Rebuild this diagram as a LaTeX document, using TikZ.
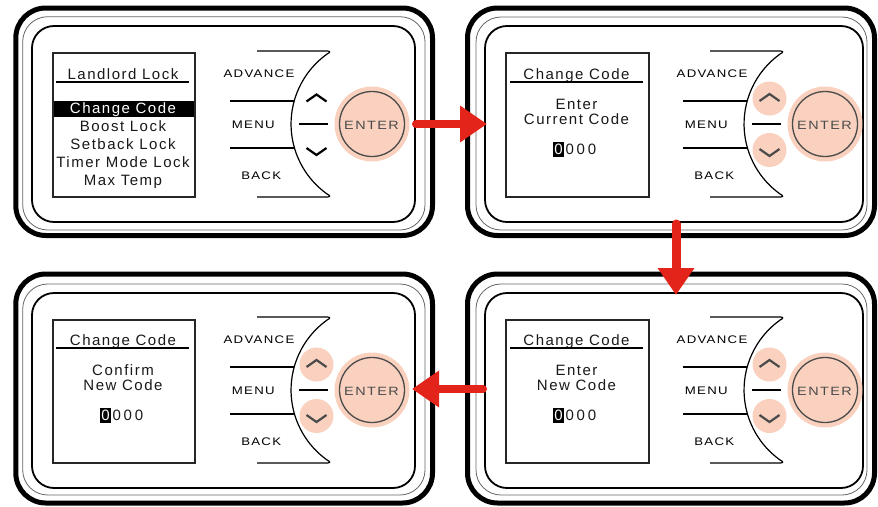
\documentclass[tikz,border=0pt]{standalone}
\usepackage{fontspec}
\setmainfont{Liberation Sans}
\newfontfamily\scrfont{Liberation Sans}[LetterSpace=10]
\newfontfamily\btnfont{Liberation Sans}[FakeStretch=1.2,LetterSpace=12]
\usetikzlibrary{arrows.meta}
\definecolor{pinkbtn}{RGB}{249,209,190}
\definecolor{arrowred}{RGB}{226,36,26}
\definecolor{btngray}{RGB}{75,75,75}
\tikzset{
  outerframe/.style={draw=black, line width=5pt, rounded corners=30pt},
  thinframe/.style={draw=black!60, line width=0.8pt, rounded corners=25pt},
  innerframe/.style={draw=black, line width=1.8pt, rounded corners=22pt},
  screenbox/.style={draw=black!85, line width=1.5pt, inner sep=0pt, anchor=north west},
  scrtext/.style={font=\scrfont\fontsize{15}{15}\selectfont, text=black!90, inner sep=0pt, anchor=base},
  btnlabel/.style={font=\btnfont\fontsize{11}{11}\selectfont, text=black, inner sep=0pt, anchor=base},
  entertext/.style={font=\btnfont\fontsize{12}{12}\selectfont, text=btngray, inner sep=0pt, anchor=base},
  keyline/.style={draw=black, line width=1.2pt},
  chevron/.style={line width=2.2pt, line join=miter},
  underl/.style={draw=black, line width=2pt},
  flowarrow/.style={draw=arrowred, line width=8pt, line cap=round,
    -{Triangle[length=27pt,width=35pt]}},
}
% keypad: #1 dx, #2 dy, #3 suffix, #4 = 1 with pink circles
\newcommand\keypad[4]{%
\begin{scope}[shift={(#1,#2)}]
  \draw[keyline] (257,51) -- (327,51) .. controls (330.5,51) and (330.5,52.5) .. (327.1,54)
     arc[start angle=234.5, end angle=125.5, radius=86]
     .. controls (330.5,195.5) and (330.5,197) .. (327,197) -- (257,197);
  \draw[keyline] (230,101) -- (294,101);
  \draw[keyline] (230,148) -- (294,148);
  \draw[keyline] (299,124) -- (328,124);
  \node[btnlabel] (adv#3) at (259,77) {ADVANCE};
  \node[btnlabel] (menu#3) at (253.3,128.3) {MENU};
  \node[btnlabel] (back#3) at (261.2,179.3) {BACK};
  \fill[pinkbtn] (372,124) circle[radius=37.5];
  \draw[btngray, line width=1.3pt] (372,124) circle[radius=32.5];
  \node[entertext] (enter#3) at (371.5,129.3) {ENTER};
  \ifnum#4=1
    \fill[pinkbtn] (316.5,98.5) circle[radius=17];
    \fill[pinkbtn] (316.5,150) circle[radius=17];
    \draw[chevron, btngray] (306.5,101) -- (316.5,94) -- (326.5,101);
    \draw[chevron, btngray] (306.5,149) -- (316.5,156) -- (326.5,149);
  \else
    \draw[chevron, black] (306.5,101.5) -- (316.5,94.5) -- (326.5,101.5);
    \draw[chevron, black] (306.5,148) -- (316.5,155) -- (326.5,148);
  \fi
\end{scope}}
% digits: #1 box left x, #2 baseline, #3 suffix
\newcommand\codedigits[3]{%
  \fill[black] (#1,#2-12) rectangle (#1+11,#2+3);
  \node[scrtext, text=white] (d1#3) at (#1+5.5,#2) {0};
  \node[scrtext] (d2#3) at (#1+16.7,#2) {0};
  \node[scrtext] (d3#3) at (#1+27.9,#2) {0};
  \node[scrtext] (d4#3) at (#1+39.1,#2) {0};}
\begin{document}
\begin{tikzpicture}[x=1pt,y=-1pt]
\useasboundingbox (0,0) rectangle (878,506);
\fill[white] (0,0) rectangle (878,506);
% frames
\draw[outerframe] (15.8,8) rectangle (432.5,235.5);
\draw[thinframe] (22.7,16.7) rectangle (425,230);
\draw[innerframe] (32,26) rectangle (415,222);
\draw[outerframe] (467.5,8) rectangle (874.5,235.5);
\draw[thinframe] (476,17) rectangle (867,230);
\draw[innerframe] (485,26) rectangle (863,222);
\draw[outerframe] (15.8,274) rectangle (432.5,503);
\draw[thinframe] (22.7,284) rectangle (425,495);
\draw[innerframe] (32,293) rectangle (415,488);
\draw[outerframe] (467.5,274) rectangle (874.5,503);
\draw[thinframe] (476,284) rectangle (867,495);
\draw[innerframe] (485,293) rectangle (863,488);
% screen 1
\fill[black] (52,101) rectangle (194,117);
\node[screenbox, minimum width=142pt, minimum height=144pt] (scr1) at (52,52) {};
\node[scrtext] (t1) at (123,79) {Landlord Lock};
\draw[underl] (56,82) -- (189,82);
\node[scrtext, text=white] (m1) at (123,113) {Change Code};
\node[scrtext] (m2) at (123,131) {Boost Lock};
\node[scrtext] (m3) at (123,149) {Setback Lock};
\node[scrtext] (m4) at (123,167) {Timer Mode Lock};
\node[scrtext] (m5) at (123,185) {Max Temp};
% screen 2
\node[screenbox, minimum width=143pt, minimum height=144pt] (scr2) at (505,52) {};
\node[scrtext] (t2) at (576.5,79) {Change Code};
\draw[underl] (510,82) -- (643,82);
\node[scrtext] (l21) at (576.5,109.5) {Enter};
\node[scrtext] (l22) at (576.5,124) {Current Code};
\codedigits{553}{154}{b}
% screen 3
\node[screenbox, minimum width=142pt, minimum height=143pt] (scr3) at (52,319) {};
\node[scrtext] (t3) at (123,345) {Change Code};
\draw[underl] (56,348) -- (189,348);
\node[scrtext] (l31) at (123,375.5) {Confirm};
\node[scrtext] (l32) at (123,390) {New Code};
\codedigits{100}{420}{c}
% screen 4
\node[screenbox, minimum width=143pt, minimum height=143pt] (scr4) at (505,319) {};
\node[scrtext] (t4) at (576.5,345) {Change Code};
\draw[underl] (510,348) -- (643,348);
\node[scrtext] (l41) at (576.5,375.5) {Enter};
\node[scrtext] (l42) at (576.5,390) {New Code};
\codedigits{553}{420}{d}
% keypads
\keypad{0}{0}{a}{0}
\keypad{453}{0}{b}{1}
\keypad{0}{266}{c}{1}
\keypad{453}{266}{d}{1}
% arrows
\coordinate (a1s) at (416,124);
\coordinate (a1e) at (487,124);
\coordinate (a2s) at (676,224);
\coordinate (a2e) at (676,295);
\coordinate (a3s) at (483,389);
\coordinate (a3e) at (412,389);
\draw[flowarrow] (a1s) -- (a1e);
\draw[flowarrow, line width=9pt] (a2s) -- (a2e);
\draw[flowarrow] (a3s) -- (a3e);
\end{tikzpicture}
\end{document}
